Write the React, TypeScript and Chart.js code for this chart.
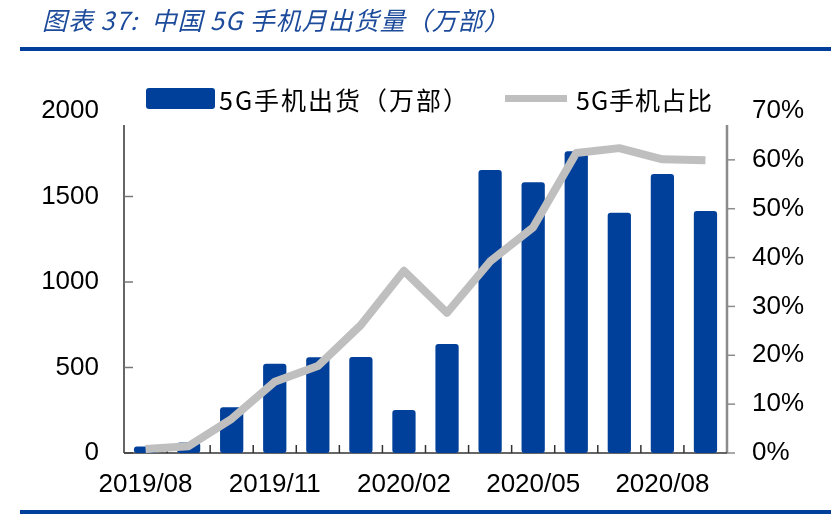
import React, { useEffect, useRef } from "react";
import { Chart, registerables } from "chart.js";

Chart.register(...registerables);

const months = [
  "2019/08", "2019/09", "2019/10", "2019/11", "2019/12", "2020/01", "2020/02",
  "2020/03", "2020/04", "2020/05", "2020/06", "2020/07", "2020/08", "2020/09",
];
// 5G手机出货（万部）
const shipments = [38, 62, 268, 522, 560, 562, 252, 638, 1655, 1583, 1765, 1405, 1632, 1415];
// 5G手机占比（%）
const share = [0.8, 1.4, 7.0, 14.6, 17.8, 26.2, 37.3, 28.7, 39.2, 46.2, 61.4, 62.4, 60.1, 59.9];

const leftTicks = [0, 500, 1000, 1500, 2000];
const rightTicks = [0, 10, 20, 30, 40, 50, 60, 70];

const BLUE = "#00409a";
const GRAY = "#bfbfbf";
const TICK_FONT = { family: "'Liberation Sans', Arial, sans-serif", size: 26 };

// axes drawn by hand: lines start a bit below the top of the plot, ticks point inward
const axesPlugin = {
  id: "axesPlugin",
  beforeDatasetsDraw(chart: any) {
    const { ctx, chartArea, scales } = chart;
    const top = chartArea.top + 14;
    const bottom = chartArea.bottom;
    ctx.save();
    // left axis
    ctx.strokeStyle = "#333";
    ctx.lineWidth = 1.5;
    ctx.beginPath();
    ctx.moveTo(chartArea.left, top);
    ctx.lineTo(chartArea.left, bottom);
    ctx.stroke();
    ctx.strokeStyle = "#777";
    leftTicks.forEach((v) => {
      const y = scales.y.getPixelForValue(v);
      if (y < top) return;
      ctx.beginPath();
      ctx.moveTo(chartArea.left, y);
      ctx.lineTo(chartArea.left + 9, y);
      ctx.stroke();
    });
    // right axis
    ctx.strokeStyle = "#8c8c8c";
    ctx.lineWidth = 2.5;
    ctx.beginPath();
    ctx.moveTo(chartArea.right, top);
    ctx.lineTo(chartArea.right, bottom);
    ctx.stroke();
    ctx.lineWidth = 1.5;
    rightTicks.forEach((v) => {
      const y = scales.y1.getPixelForValue(v);
      if (y < top) return;
      ctx.beginPath();
      ctx.moveTo(chartArea.right, y);
      ctx.lineTo(chartArea.right + 8, y);
      ctx.stroke();
    });
    // x axis
    ctx.strokeStyle = "#333";
    ctx.lineWidth = 1.5;
    ctx.beginPath();
    ctx.moveTo(chartArea.left, bottom);
    ctx.lineTo(chartArea.right, bottom);
    ctx.stroke();
    const step = (chartArea.right - chartArea.left) / months.length;
    for (let i = 1; i < months.length; i++) {
      const x = chartArea.left + step * i;
      ctx.beginPath();
      ctx.moveTo(x, bottom);
      ctx.lineTo(x, bottom - 8);
      ctx.stroke();
    }
    ctx.restore();
  },
};

const ShipmentChart: React.FC = () => {
  const canvasRef = useRef<HTMLCanvasElement | null>(null);
  const chartRef = useRef<Chart | null>(null);

  useEffect(() => {
    const ctx = canvasRef.current?.getContext("2d");
    if (!ctx) return;
    if (chartRef.current) chartRef.current.destroy();

    chartRef.current = new Chart(ctx, {
      type: "bar",
      data: {
        labels: months,
        datasets: [
          {
            type: "line",
            label: "5G手机占比",
            data: share,
            yAxisID: "y1",
            borderColor: GRAY,
            borderWidth: 8,
            pointRadius: 0,
            tension: 0,
            borderJoinStyle: "round",
            order: 0,
          },
          {
            type: "bar",
            label: "5G手机出货（万部）",
            data: shipments,
            yAxisID: "y",
            backgroundColor: BLUE,
            barPercentage: 0.54,
            categoryPercentage: 1,
            borderRadius: 3,
            borderSkipped: false,
            order: 1,
          },
        ],
      },
      options: {
        responsive: true,
        maintainAspectRatio: false,
        animation: false,
        layout: { padding: { top: 111, left: 0, right: 0, bottom: 0 } },
        plugins: {
          legend: { display: false },
          tooltip: { enabled: false },
        },
        scales: {
          x: {
            grid: { display: false, drawTicks: false },
            border: { display: false },
            ticks: {
              autoSkip: false,
              maxRotation: 0,
              padding: 16,
              color: "#000",
              font: TICK_FONT,
              callback: (_v: any, i: number) => (i % 3 === 0 ? months[i] : ""),
            },
            afterFit: (scale: any) => {
              scale.height = 61;
            },
          },
          y: {
            position: "left",
            min: 0,
            max: 2000,
            grid: { display: false, drawTicks: false },
            border: { display: false },
            ticks: {
              stepSize: 500,
              padding: 25,
              color: "#000",
              font: TICK_FONT,
              callback: (v: any) => String(v),
            },
            afterFit: (scale: any) => {
              scale.width = 124;
            },
          },
          y1: {
            position: "right",
            min: 0,
            max: 70,
            grid: { display: false, drawTicks: false },
            border: { display: false },
            ticks: {
              stepSize: 10,
              padding: 25,
              color: "#000",
              font: TICK_FONT,
              callback: (v: any) => v + "%",
            },
            afterFit: (scale: any) => {
              scale.width = 104;
            },
          },
        },
      },
      plugins: [axesPlugin],
    } as any);

    return () => {
      if (chartRef.current) {
        chartRef.current.destroy();
        chartRef.current = null;
      }
    };
  }, []);

  return (
    <div style={{ position: "absolute", left: 0, top: 0, width: 831, height: 514 }}>
      <canvas ref={canvasRef}></canvas>
    </div>
  );
};

const cjk = "'Noto Sans CJK SC', sans-serif";

export default function App() {
  return (
    <div
      style={{
        position: "absolute",
        left: 0,
        top: 0,
        width: 831,
        height: 514,
        background: "#fff",
        overflow: "hidden",
      }}
    >
      <ShipmentChart />
      <div
        style={{
          position: "absolute",
          left: 42,
          top: 4,
          fontFamily: cjk,
          fontStyle: "italic",
          fontSize: 25,
          lineHeight: "30px",
          letterSpacing: 1,
          color: "#1d4b9b",
          whiteSpace: "pre",
        }}
      >
        图表 37:  中国 5G 手机月出货量（万部）
      </div>
      <div style={{ position: "absolute", left: 20, top: 47, width: 811, height: 4, background: BLUE }} />
      <div style={{ position: "absolute", left: 20, top: 510, width: 811, height: 4, background: BLUE }} />
      <div
        style={{
          position: "absolute",
          left: 146,
          top: 88,
          width: 69,
          height: 21,
          borderRadius: 3,
          background: BLUE,
        }}
      />
      <div
        style={{
          position: "absolute",
          left: 219,
          top: 85,
          fontFamily: cjk,
          fontSize: 25,
          lineHeight: "28px",
          letterSpacing: 2,
          color: "#000",
          whiteSpace: "pre",
        }}
      >
        5G手机出货（万部）
      </div>
      <div style={{ position: "absolute", left: 505, top: 95, width: 62, height: 7, background: GRAY }} />
      <div
        style={{
          position: "absolute",
          left: 576,
          top: 85,
          fontFamily: cjk,
          fontSize: 25,
          lineHeight: "28px",
          color: "#000",
          whiteSpace: "pre",
          letterSpacing: 1,
        }}
      >
        5G手机占比
      </div>
    </div>
  );
}
